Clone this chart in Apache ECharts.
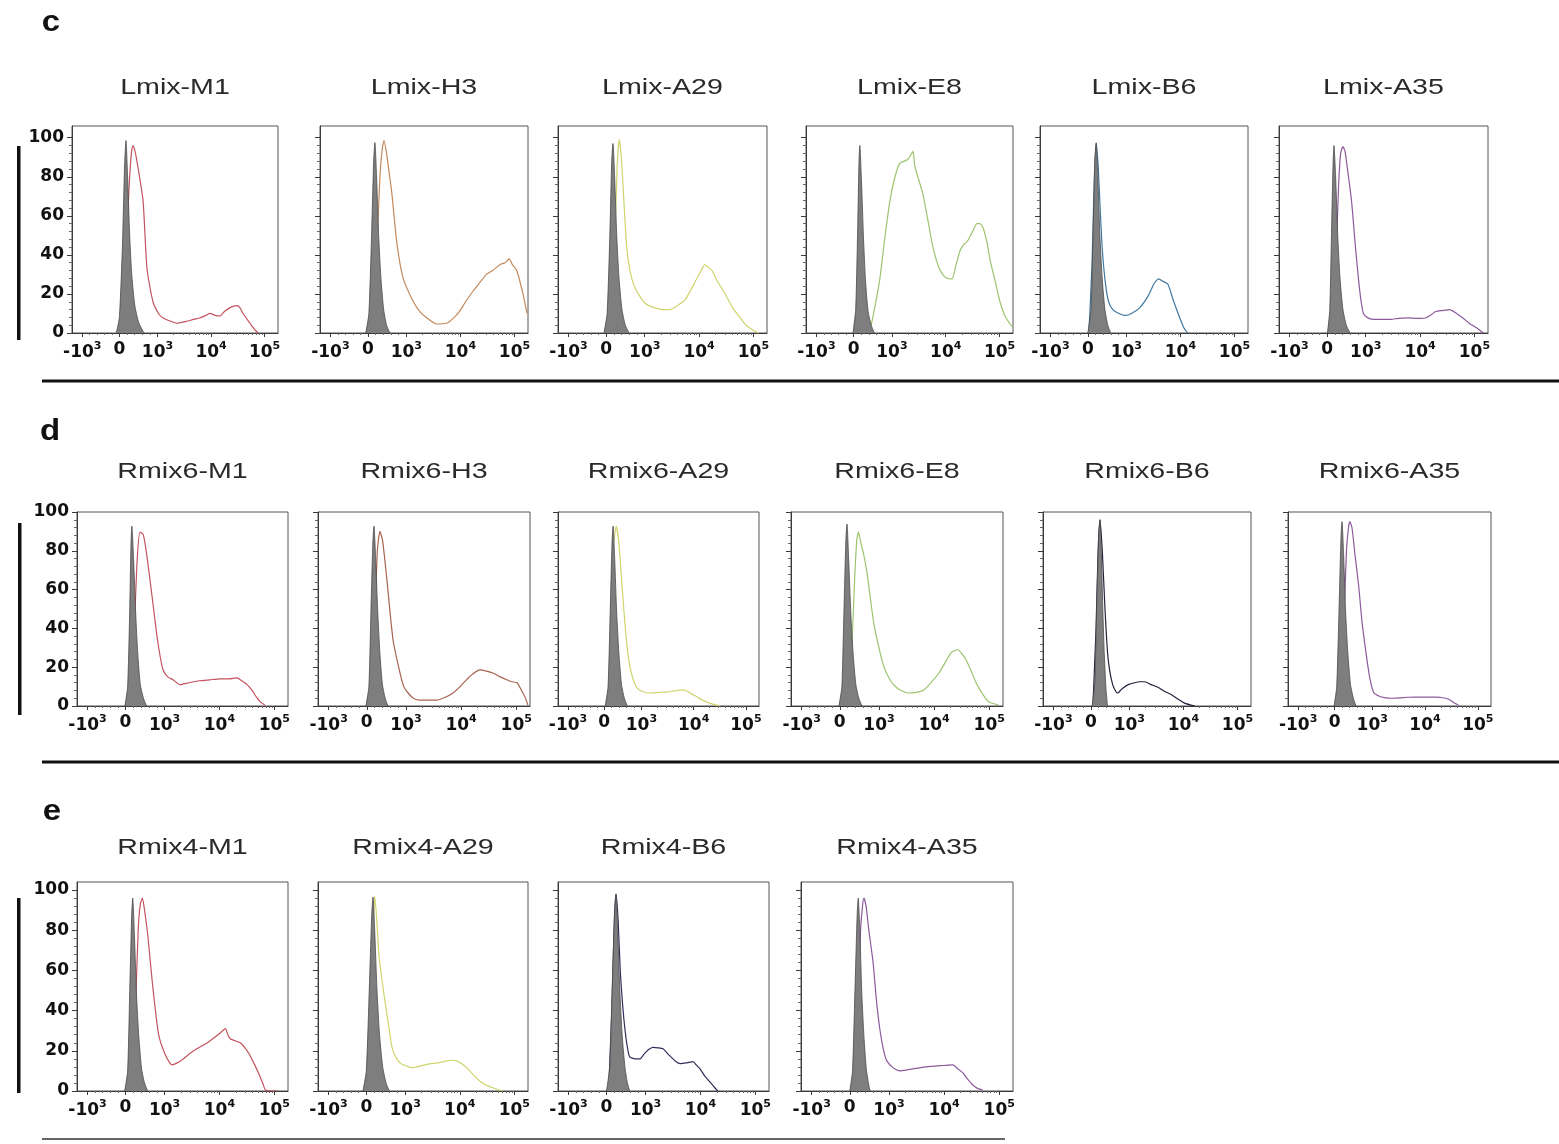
<!DOCTYPE html>
<html>
<head>
<meta charset="utf-8">
<script src="https://cdn.jsdelivr.net/npm/echarts@6/dist/echarts.min.js"></script>
<style>
html,body{margin:0;padding:0;background:#fff;}
#chart{width:1559px;height:1144px;}
</style>
</head>
<body>
<div id="chart"></div>
<script>
// ---------------- DATA ----------------
// x values are positions on the biexponential display scale (0..100 of the axis),
// y values are "% of max" counts.
const X_TICK_POS = [5, 23, 41.5, 67.5, 93.5];
const X_TICK_LABELS = ['-10^3', '0', '10^3', '10^4', '10^5'];
const Y_TICKS = [0, 20, 40, 60, 80, 100];

const TITLES = [
  ['Lmix-M1', 'Lmix-H3', 'Lmix-A29', 'Lmix-E8', 'Lmix-B6', 'Lmix-A35'],
  ['Rmix6-M1', 'Rmix6-H3', 'Rmix6-A29', 'Rmix6-E8', 'Rmix6-B6', 'Rmix6-A35'],
  ['Rmix4-M1', 'Rmix4-A29', 'Rmix4-B6', 'Rmix4-A35']
];
const PANEL_LETTERS = ['c', 'd', 'e'];

// ---- row c: Lmix ----
const lmixM1Ctrl = [[21.5,0],[23,8],[24.5,45],[25.5,85],[26.2,98.5],[27,80],[28,50],[29,30],[30.5,14],[32.5,5],[35,0]];
const lmixM1 = [[24,0],[26,25],[27.5,70],[28.8,92],[29.6,96],[30.6,93],[32,85],[34.5,67.7],[36.4,33],[39.3,16],[42,10],[44.2,7.7],[48,6],[51,5],[55.8,6],[59,7],[62,7.7],[65,9],[67,10],[69.5,9],[71.8,8.7],[74,11],[76.7,13],[80,14],[81.5,13],[83,10],[86.4,5],[88.5,2],[90.3,0]];

const lmixH3Ctrl = [[22,0],[23.5,10],[24.8,50],[25.8,88],[26.4,97.5],[27.2,80],[28.2,50],[29.3,28],[30.6,12],[32,4],[33.6,0]];
const lmixH3 = [[25,0],[27,35],[28.8,80],[30,95],[30.8,98.5],[32,92],[33.5,80],[34.6,71],[37,45.6],[40,28],[44.7,16.4],[48,11],[51.4,7.7],[56,4.6],[61,5],[64,7.5],[67,11],[70,16],[73.6,21.5],[77,26],[80,30],[83,32],[86.5,35],[89,36],[91,38],[92.5,35],[94.6,32],[97.6,20],[99.5,10]];

const lmixA29Ctrl = [[22,0],[23.5,10],[24.8,50],[25.7,88],[26.3,97],[27.1,80],[28.1,50],[29.2,28],[30.6,12],[32.2,4],[34,0]];
const lmixA29 = [[25.5,0],[27,40],[28.3,85],[29.3,99],[30.3,90],[31.5,68],[32.8,45],[34.4,32],[36.5,24],[39,19],[42,15],[46,13],[50,12],[53.6,12],[57,14],[60.8,17],[63,21],[65.5,26],[68,31],[70.3,35],[71.5,34],[73.7,32],[76,27],[80,20],[83.5,13],[87,8],[90,4],[94,1],[96,0]];

const lmixE8Ctrl = [[22.7,0],[24,12],[25,55],[25.6,88],[26,96],[26.8,78],[27.8,48],[28.8,26],[30,11],[31.5,4],[33,0]];
const lmixE8 = [[28,0],[31,2.5],[33,12],[35.7,28],[38,48],[40.6,68],[43,80],[45.4,87],[47.5,88],[49.3,89],[50.5,91],[51.7,93],[52.5,86],[53.6,81.5],[56.5,71],[59,57],[61.4,43.6],[64,34],[66,30],[68,28],[70.5,27.7],[72.5,35],[74.4,42],[76,45],[78,47],[80.5,52],[82.6,56],[84,56],[85.5,54],[87.5,46],[89,37],[91.5,26],[93.7,16],[96,9],[98.6,4.6],[100,3]];

const lmixB6Ctrl = [[23,0],[24.5,12],[25.6,55],[26.4,90],[27,97.4],[27.8,80],[28.8,50],[29.9,28],[31.2,12],[32.6,4],[34,0]];
const lmixB6 = [[23.5,0],[25,35],[26,75],[27,97],[28,85],[29,62],[30,42],[31.5,25],[33,16],[35,12],[38,10],[41,9],[44,10],[48,13],[52,19],[55,25.6],[57,27.7],[59,26.5],[61.5,25],[64,17],[66.5,9.7],[69,3],[71,0]];

const lmixA35Ctrl = [[23.2,0],[24.3,12],[25.2,55],[25.9,88],[26.3,96],[27.1,80],[28.1,50],[29.2,28],[30.6,12],[32.2,4],[34,0]];
const lmixA35 = [[25,0],[27,30],[28.5,75],[29.5,92],[30.6,95.4],[31.6,93],[33,82],[34.7,67.7],[36.5,45],[38,28],[39.3,16],[40.5,9.7],[43,7.5],[45.5,7],[50,7],[53.6,7],[57,7.5],[61.7,7.7],[66,7.5],[70,7.7],[73,9.5],[75,11],[78,11.5],[81.6,12],[85,10],[88,7.7],[91,5],[94.7,2.6],[97.8,0]];

// ---- row d: Rmix6 ----
const rmix6M1Ctrl = [[22.7,0],[24,10],[25,50],[25.6,84],[26,92.7],[26.8,76],[27.8,48],[28.8,27],[30,11],[31.5,4],[33,0]];
const rmix6M1 = [[25.5,0],[27,35],[28.5,75],[29.9,89.6],[31.3,88.6],[32.5,82],[34.6,65],[36.3,50],[37.9,36],[39.5,25],[40.8,18.6],[43,15],[45.5,13.5],[48.8,11],[53,12],[58,13],[63,13.5],[67.8,14],[72,14],[75.8,14.5],[78,13],[80.6,11],[83,8],[85,4.7],[87,2],[89,0.5]];

const rmix6H3Ctrl = [[22.6,0],[24,10],[25,50],[25.9,85],[26.4,92.7],[27.2,76],[28.2,48],[29.2,27],[30.4,11],[31.7,4],[33,0]];
const rmix6H3 = [[25,0],[26.5,35],[28,80],[29.2,90],[30.5,85],[32.5,65],[35.4,34],[38.7,17],[40.5,10],[42.5,6.7],[45,4],[48,3],[52,3],[56,3],[60,4.5],[63.7,6.7],[67,10],[70,13.5],[73,16.5],[76.4,18.6],[79.5,18],[82.5,17],[86,15],[89,13.5],[91.5,12.5],[93.9,12],[96,8],[97.6,4.7],[99,0.5]];

const rmix6A29Ctrl = [[23.5,0],[24.9,10],[26,50],[26.9,85],[27.4,92.7],[28.2,76],[29.2,48],[30.3,27],[31.6,11],[33,4],[34.5,0]];
const rmix6A29 = [[25,0],[26.5,40],[27.8,85],[29,92.7],[30.2,85],[32,60],[33.5,40],[35,25],[37,15],[39.3,9.3],[42,7.5],[46,6.7],[50,7],[54.5,7.3],[58,7.8],[62.4,8.3],[65,7.2],[67.4,5.7],[70.5,3.8],[74,2],[77,1],[80.6,0]];

const rmix6E8Ctrl = [[22.6,0],[24,10],[25,50],[25.9,86],[26.4,93.8],[27.2,76],[28.2,48],[29.3,27],[30.6,11],[32,4],[33.5,0]];
const rmix6E8 = [[27,0],[28.5,25],[30,65],[31,85],[31.8,89.6],[33,84],[34.5,77],[35.8,69],[37.5,55],[39,43],[41.5,30],[43.9,20],[47,13],[50,9.3],[53,7.5],[55.7,6.7],[59,7],[62.7,8.3],[66,12],[69.8,17],[72.5,22],[75.5,27.5],[77,28.5],[78.8,29],[80.5,27],[82.5,24],[85,18],[87.3,12],[90.5,6],[93.4,2],[97.9,0.5]];

const rmix6B6Ctrl = [[23.6,0],[24.9,12],[25.9,55],[26.9,90],[27.4,96],[28.1,78],[28.8,48],[29.5,26],[30.2,10],[31,0]];
const rmix6B6 = [[24,0],[25.5,40],[26.5,80],[27.4,96],[28.5,80],[29.8,50],[31,28],[32,18.6],[33.5,11],[35,7.5],[36,6.7],[37.2,8],[38.5,9.3],[41,11],[44,12],[46.5,12.5],[49,12.5],[52,11],[55,9.8],[58.5,7.5],[62,5.7],[65,3.5],[68,1.5],[73,0]];

const rmix6A35Ctrl = [[22.7,0],[24,10],[25.2,52],[26.1,87],[26.6,95],[27.4,78],[28.4,48],[29.5,27],[30.8,11],[32.2,4],[33.5,0]];
const rmix6A35 = [[25,0],[27,30],[28.8,80],[29.8,92],[30.5,95],[31.5,92],[33,78],[34.8,62],[36.5,43],[38.4,27.7],[40.2,15],[42.2,7],[45,5],[47.5,4.3],[50.8,4],[55,4.2],[59,4.5],[63,4.6],[68,4.6],[72.7,4.6],[75,4.4],[77.7,4],[80,3],[82,1.5],[84,0.5]];

// ---- row e: Rmix4 ----
const rmix4M1Ctrl = [[22.6,0],[24,10],[25,50],[25.9,87],[26.4,96],[27.2,78],[28.2,48],[29.3,27],[30.6,11],[32,4],[33.5,0]];
const rmix4M1 = [[26,0],[27.5,35],[29,80],[30,93],[31,96],[32,90],[33.5,78],[35.8,53],[38.7,28],[42,17.7],[45,13],[47.5,14],[50,15.7],[55.2,20],[58.5,22],[61.8,24],[65,26.5],[68,29],[70.3,31],[71.5,28],[72.6,26],[75,25],[77.4,24],[80,21],[82,17.7],[84,13.5],[86,9],[88,4],[89.4,0.5],[95,0]];

const rmix4A29Ctrl = [[21.4,0],[23,10],[24.4,50],[25.6,88],[26.2,96.5],[27,80],[28.1,50],[29.3,28],[30.8,12],[32.4,4],[34,0]];
const rmix4A29 = [[24,0],[25.3,40],[26.3,85],[27,97],[28,85],[29,68],[30.5,55],[32.4,41],[34,30],[35.4,21],[37.5,16],[39.7,13.5],[42,12.5],[45,11.6],[49,12.5],[53,13.5],[57,14],[61.3,15],[64,15.3],[66,15],[68.5,13.5],[70.8,11.6],[74,8],[77,5],[80,3],[83.5,1.5],[88,0]];

const rmix4B6Ctrl = [[23,0],[24.5,12],[25.8,55],[26.9,90],[27.5,98],[28.3,80],[29.3,50],[30.4,28],[31.7,12],[32.9,4],[34,0]];
const rmix4B6 = [[24,0],[25.5,40],[26.7,85],[27.5,98],[28.5,85],[29.5,60],[30.7,42],[31.8,30],[33,21],[34,17],[36.5,16],[38.9,16],[40.5,18],[42,19.7],[43.5,21],[45,21.7],[47.5,21.5],[49.8,21],[52,18.5],[54.5,16],[56,14.5],[57.8,13.6],[61,14],[64,14.6],[65.5,13],[67.3,11],[69.5,7.5],[72,4.5],[74,2],[75.8,0]];

const rmix4A35Ctrl = [[23,0],[24.3,10],[25.5,52],[26.5,88],[27,96],[27.8,78],[28.7,48],[29.7,27],[30.8,11],[31.8,4],[32.6,0]];
const rmix4A35 = [[25,0],[26.5,30],[28,78],[29,92],[29.7,96],[30.7,92],[32,80],[34,64],[35.6,45],[37.3,30],[39,20],[40.5,15],[43.5,11.5],[46.7,10],[50,10.5],[52.8,11],[57,11.8],[61,12.3],[65.6,12.6],[68.5,12.8],[71.7,13],[74,11],[76.4,9],[78.5,6],[81,3],[83.5,1.2],[85.8,0.5]];

const CONTROLS = [
  [lmixM1Ctrl, lmixH3Ctrl, lmixA29Ctrl, lmixE8Ctrl, lmixB6Ctrl, lmixA35Ctrl],
  [rmix6M1Ctrl, rmix6H3Ctrl, rmix6A29Ctrl, rmix6E8Ctrl, rmix6B6Ctrl, rmix6A35Ctrl],
  [rmix4M1Ctrl, rmix4A29Ctrl, rmix4B6Ctrl, rmix4A35Ctrl]
];
const SAMPLES = [
  [lmixM1, lmixH3, lmixA29, lmixE8, lmixB6, lmixA35],
  [rmix6M1, rmix6H3, rmix6A29, rmix6E8, rmix6B6, rmix6A35],
  [rmix4M1, rmix4A29, rmix4B6, rmix4A35]
];

// ---------------- LAYOUT / STYLE ----------------
const LINE_COLORS = [
  ['#c4525f', '#c48a5c', '#cfd46c', '#9cc46e', '#3f78a0', '#8c5a9c'],
  ['#c4525f', '#a8634e', '#cfd46c', '#9cc46e', '#22223c', '#8c5a9c'],
  ['#c4525f', '#cfd46c', '#2e2e5c', '#8c5a9c']
];
const ROW_TOP = [126, 512, 882];
const ROW_H = [207, 194, 209];
const ROW_YMAX = [106, 100, 104];
const TITLE_Y = [88, 472, 848];
const COL_LEFT = [[72, 320, 558, 806, 1040, 1279], [77, 318, 558, 791, 1043, 1288], [77, 318, 558, 801]];
const COL_W = [[206, 208, 209, 207, 208, 209], [211, 212, 201, 212, 208, 203], [211, 210, 211, 212]];

// minor tick positions on the biexponential axis (axis scaffolding only)
const DEC = X_TICK_POS[3] - X_TICK_POS[2];
const X_MINOR = [];
for (let k = 1; k < 5; k++) {
  X_MINOR.push(X_TICK_POS[0] + (X_TICK_POS[1] - X_TICK_POS[0]) * k / 5);
  X_MINOR.push(X_TICK_POS[1] + (X_TICK_POS[2] - X_TICK_POS[1]) * k / 5);
}
for (let m = 2; m <= 9; m++) {
  X_MINOR.push(X_TICK_POS[2] + DEC * Math.log10(m));
  X_MINOR.push(X_TICK_POS[3] + DEC * Math.log10(m));
}
const Y_MINOR = [];
for (let v = 4; v < 100; v += 4) if (v % 20 !== 0) Y_MINOR.push(v);

function fmtX(v) {
  const i = X_TICK_POS.indexOf(v);
  if (i < 0) return '';
  const s = X_TICK_LABELS[i];
  const k = s.indexOf('^');
  return k < 0 ? '{n|' + s + '}' : '{n|' + s.slice(0, k) + '}{s|' + s.slice(k + 1) + '}';
}

const FONT_NUM = 'DejaVu Sans';
const AX = '#3a3a3a';
const richX = {
  n: { fontSize: 17, fontWeight: 'bold', fontFamily: FONT_NUM, color: '#111' },
  s: { fontSize: 11, fontWeight: 'bold', fontFamily: FONT_NUM, color: '#111', padding: [0, 0, 12, 0] }
};

const grids = [], xAxes = [], yAxes = [], series = [], graphics = [];
let gi = 0;
for (let r = 0; r < 3; r++) {
  for (let c = 0; c < TITLES[r].length; c++) {
    const left = COL_LEFT[r][c], width = COL_W[r][c];
    grids.push({ left: left, top: ROW_TOP[r], width: width, height: ROW_H[r], show: true,
      borderColor: '#555', borderWidth: 1, backgroundColor: '#fff' });
    xAxes.push({ gridIndex: gi, type: 'value', min: 0, max: 100, position: 'bottom',
      axisLine: { show: true, onZero: false, lineStyle: { color: AX, width: 1 } },
      splitLine: { show: false },
      axisTick: { show: true, customValues: X_TICK_POS, length: 4, lineStyle: { color: AX } },
      axisLabel: { show: true, customValues: X_TICK_POS, formatter: fmtX, rich: richX, margin: 8 } });
    xAxes.push({ gridIndex: gi, type: 'value', min: 0, max: 100, position: 'bottom',
      axisLine: { show: false, onZero: false }, splitLine: { show: false },
      axisTick: { show: true, customValues: X_MINOR, length: 2, lineStyle: { color: '#666' } },
      axisLabel: { show: false } });
    yAxes.push({ gridIndex: gi, type: 'value', min: 0, max: ROW_YMAX[r], position: 'left',
      axisLine: { show: true, onZero: false, lineStyle: { color: AX, width: 1 } },
      splitLine: { show: false },
      axisTick: { show: true, customValues: Y_TICKS, length: 5, lineStyle: { color: AX } },
      axisLabel: { show: c === 0, customValues: Y_TICKS, margin: 8,
        fontSize: 17, fontWeight: 'bold', fontFamily: FONT_NUM, color: '#111' } });
    yAxes.push({ gridIndex: gi, type: 'value', min: 0, max: ROW_YMAX[r], position: 'left',
      axisLine: { show: false, onZero: false }, splitLine: { show: false },
      axisTick: { show: true, customValues: Y_MINOR, length: 3, lineStyle: { color: '#666' } },
      axisLabel: { show: false } });
    series.push({ type: 'line', name: TITLES[r][c], xAxisIndex: 2 * gi, yAxisIndex: 2 * gi,
      data: SAMPLES[r][c], symbol: 'none', smooth: 0.2, z: 3,
      lineStyle: { color: LINE_COLORS[r][c], width: 1.2 } });
    series.push({ type: 'line', name: TITLES[r][c] + ' control', xAxisIndex: 2 * gi, yAxisIndex: 2 * gi,
      data: CONTROLS[r][c], symbol: 'none', smooth: 0.2, z: 4,
      lineStyle: { color: '#4a4a4a', width: 0.8 },
      areaStyle: { color: '#7e7e7e', opacity: 1 } });
    graphics.push({ type: 'text', x: left + width / 2, y: TITLE_Y[r], scaleX: 1.3, z: 10,
      style: { text: TITLES[r][c], fontSize: 22, fontFamily: 'Liberation Sans', fill: '#2a2a2a',
        align: 'center', verticalAlign: 'middle' } });
    gi++;
  }
}

// panel letters
const LETTER_POS = [[51, 23], [50, 432], [52, 812]];
for (let r = 0; r < 3; r++) {
  graphics.push({ type: 'text', x: LETTER_POS[r][0], y: LETTER_POS[r][1], scaleX: 1.1,
    style: { text: PANEL_LETTERS[r], fontSize: 30, fontWeight: 'bold', fontFamily: 'Liberation Sans',
      fill: '#111', align: 'center', verticalAlign: 'middle' } });
}
// left vertical bars (cropped axis titles)
const BAR = [[17, 146, 194], [18, 523, 192], [17, 898, 195]];
BAR.forEach(b => graphics.push({ type: 'rect', shape: { x: b[0], y: b[1], width: 3.5, height: b[2] },
  style: { fill: '#111' } }));
// separators
graphics.push({ type: 'line', shape: { x1: 42, y1: 381, x2: 1559, y2: 381 }, style: { stroke: '#111', lineWidth: 3 } });
graphics.push({ type: 'line', shape: { x1: 42, y1: 762, x2: 1559, y2: 762 }, style: { stroke: '#111', lineWidth: 3 } });
graphics.push({ type: 'line', shape: { x1: 42, y1: 1139, x2: 1005, y2: 1139 }, style: { stroke: '#333', lineWidth: 1.5 } });

const chart = echarts.init(document.getElementById('chart'), null, { renderer: 'canvas' });
chart.setOption({
  backgroundColor: '#fff',
  animation: false,
  grid: grids,
  xAxis: xAxes,
  yAxis: yAxes,
  series: series,
  graphic: graphics
});
</script>
</body>
</html>
